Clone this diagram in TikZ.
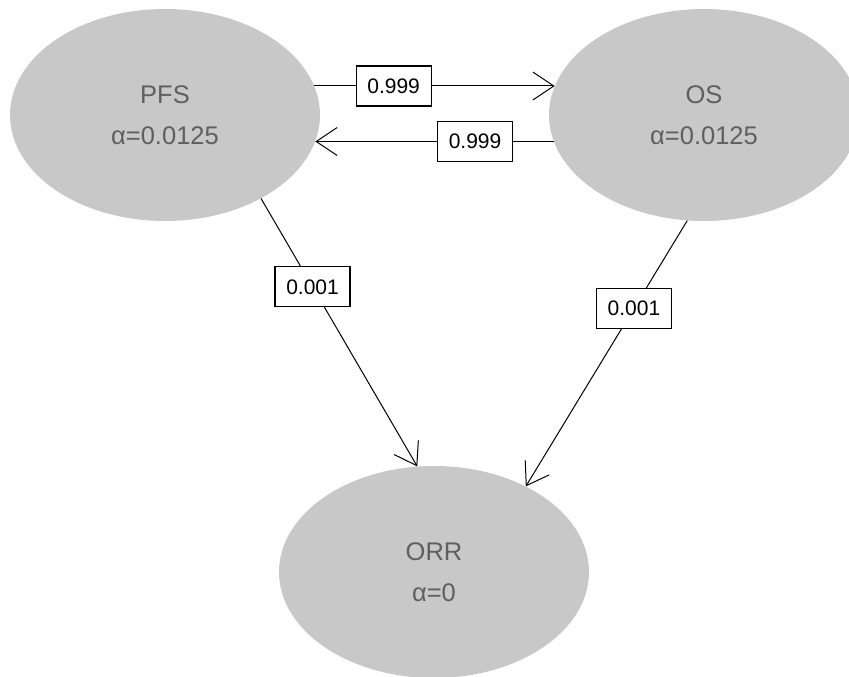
\documentclass[tikz,border=0pt]{standalone}
\usepackage{fontspec}
\setmainfont{Liberation Sans}
\usetikzlibrary{shapes.geometric,arrows.meta}
\definecolor{hypfill}{RGB}{200,200,200}
\definecolor{hyptext}{RGB}{95,95,95}
\begin{document}
\begin{tikzpicture}[x=1pt,y=-1pt,
  hyp/.style={ellipse,fill=hypfill,minimum width=310pt,minimum height=212pt,
    inner sep=0pt,align=center,text=hyptext,
    font=\fontsize{25.5}{41}\selectfont},
  wgt/.style={draw,line width=1.2pt,fill=white,minimum width=75pt,minimum height=40pt,
    inner sep=0pt,font=\fontsize{21}{25}\selectfont,pos=0.33},
  trans/.style={line width=1pt,-{Straight Barb[length=21pt,width=28pt]}}]
   \newcommand{\alphaLine}[1]{α=#1}
\clip (0,0) rectangle (849,677);
\node[hyp] (PFS) at (165,115) {PFS\\\alphaLine{0.0125}};
\node[hyp] (OS) at (704,115) {OS\\\alphaLine{0.0125}};
\node[hyp] (ORR) at (434,572) {ORR\\\alphaLine{0}};
\draw[trans] (PFS.11) -- node[wgt] {0.999} (OS.169);
\draw[trans] (OS.190) -- node[wgt] {0.999} (PFS.-10);
\draw[trans] (PFS.-41) -- node[wgt] {0.001} (ORR.99);
\draw[trans] (OS.-99) -- node[wgt] {0.001} (ORR.43);
\end{tikzpicture}
\end{document}
